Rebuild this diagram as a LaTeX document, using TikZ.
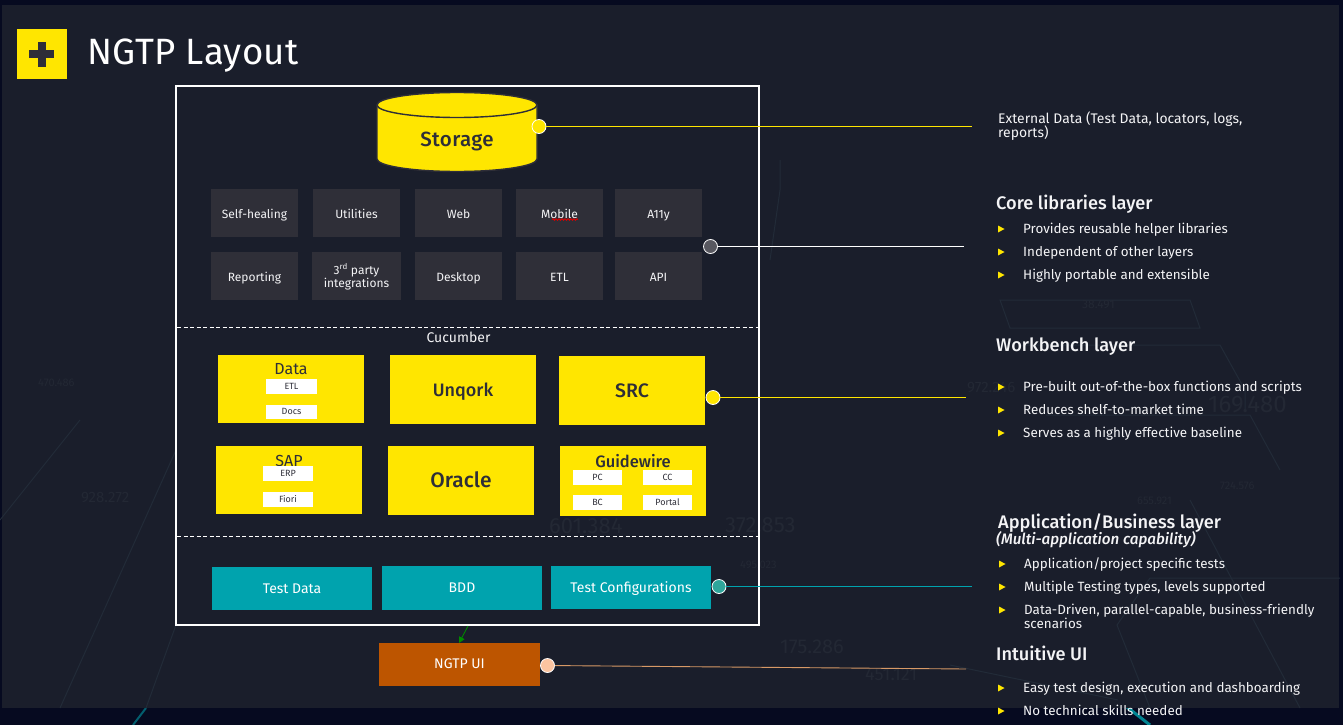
\documentclass[tikz,border=0pt]{standalone}
\usepackage{fontspec}
\setmainfont{Fira Sans}
\usetikzlibrary{arrows.meta,decorations.pathmorphing}
\definecolor{panel}{HTML}{1A1E2B}
\definecolor{outerbg}{HTML}{060A20}
\definecolor{eyyellow}{HTML}{FFE600}
\definecolor{eydark}{HTML}{2E2E38}
\definecolor{eyteal}{HTML}{00A3AE}
\definecolor{eyorange}{HTML}{BD5500}
\definecolor{greybox}{HTML}{2F2F38}
\definecolor{faint}{HTML}{222B38}
\definecolor{fainttext}{HTML}{232834}
\definecolor{textw}{HTML}{F4F4F6}
\definecolor{tealdot}{HTML}{2FA59B}
\definecolor{peachdot}{HTML}{FCC4A0}
\newfontface\medium{Fira Sans Medium}
\newfontface\mediumit{Fira Sans Medium Italic}
\tikzset{
  x=1pt,y=-1pt,
  box/.style 2 args={anchor=north west,inner sep=0pt,outer sep=0pt,minimum width=#1,minimum height=#2},
  core/.style={fill=greybox,text=textw,text height=11.5pt,text depth=1.5pt,font=\fontsize{12}{13.5}\selectfont},
  ylw/.style={fill=eyyellow,text=eydark,text height=15.5pt,text depth=2pt,font=\fontsize{19.5}{22}\selectfont\medium},
  ylwhead/.style={fill=none,text=eydark,inner sep=0pt,font=\fontsize{16}{18}\selectfont},
  sub/.style={fill=white,text=eydark,text height=7pt,text depth=2pt,font=\fontsize{9}{10}\selectfont},
  tealbox/.style={fill=eyteal,text=white,text height=10.5pt,text depth=1.5pt,font=\fontsize{14}{16}\selectfont},
  dot/.style={circle,inner sep=0pt,minimum size=14pt,line width=.8pt},
  lbl/.style={anchor=base west,inner sep=0pt,text=textw,font=\fontsize{13.4}{14}\selectfont},
  headlbl/.style={anchor=base west,inner sep=0pt,text=textw,font=\fontsize{18.2}{20}\selectfont\medium},
  bull/.style={fill=eyyellow,draw=none},
  bgline/.style={draw=faint,line width=1pt},
  bgnum/.style={text=fainttext,inner sep=0pt,anchor=west},
  dashline/.style={draw=white,line width=1pt,dash pattern=on 4pt off 2.5pt},
}
\newcommand{\bul}[2]{\fill[bull] (#1,#2-3.5) -- (#1+6.5,#2) -- (#1,#2+3.5) -- cycle;}
\begin{document}
\begin{tikzpicture}
\useasboundingbox (0,0) rectangle (1343,725);
\fill[outerbg] (0,0) rectangle (1343,725);
% bright leftovers of the backdrop outside the panel
\draw[draw=eyteal!55!outerbg,line width=2pt] (146,708) -- (133,725);
\draw[draw=eyteal!80!outerbg,line width=3pt] (1118,700) -- (1150,725);
\fill[panel] (2,5) rectangle (1339,708);
% faint backdrop
\draw[bgline] (176,625) -- (146,708);
\draw[bgline] (1340,578) -- (1150,578) -- (1117,625) -- (1150,708);
\draw[bgline] (1190,500) -- (1300,708);
\draw[bgline] (950,665) -- (1118,700);
\draw[bgline] (1000,300) -- (1190,300) -- (1200,328) -- (1010,328) -- cycle;
\draw[bgline] (1020,345) -- (1220,345) -- (1245,390) -- (1245,410);
\draw[bgline] (1046,415) -- (1250,415) -- (1280,470);
\draw[bgline] (0,520) -- (80,420);
\draw[bgline] (60,708) -- (176,450);
\draw[bgline] (780,160) -- (780,190) -- (770,260);
\node[bgnum,font=\fontsize{15}{16}\selectfont] (n1) at (81,498) {928.272};
\node[bgnum,font=\fontsize{11}{12}\selectfont] (n2) at (38,383) {470.486};
\node[bgnum,font=\fontsize{22}{24}\selectfont] (n3) at (549,526) {601.384};
\node[bgnum,font=\fontsize{22}{24}\selectfont] (n4) at (725,525) {372.853};
\node[bgnum,font=\fontsize{20}{22}\selectfont] (n5) at (780,647) {175.286};
\node[bgnum,font=\fontsize{18}{20}\selectfont] (n6) at (865,674) {451.121};
\node[bgnum,font=\fontsize{24}{26}\selectfont] (n7) at (1208,405) {169.480};
\node[bgnum,font=\fontsize{11}{12}\selectfont] (n8) at (1220,486) {724.576};
\node[bgnum,font=\fontsize{11}{12}\selectfont] (n9) at (1137,501) {655.921};
\node[bgnum,font=\fontsize{15}{17}\selectfont] (n10) at (967,388) {972.246};
\node[bgnum,font=\fontsize{12}{13}\selectfont] (n11) at (1082,305) {38.491};
\node[bgnum,font=\fontsize{11}{12}\selectfont] (n12) at (740,565) {495.023};
% title
\fill[eyyellow] (17,29) rectangle (67,79);
\fill[eydark] (29,50) rectangle (54,58);
\fill[eydark] (37.5,42) rectangle (45.5,67);
\node[anchor=base west,inner sep=0pt,text=white,font=\fontsize{36.6}{38}\selectfont\addfontfeature{LetterSpace=1}] (title) at (87,65) {NGTP Layout};
% outer frame
\node[box={583pt}{539pt},draw=white,line width=2pt] (frame) at (176,86) {};
\draw[dashline] (177,327) -- (758,327);
\draw[dashline] (177,536) -- (758,536);
% storage
\draw[fill=eyyellow,draw=eydark,line width=1.4pt] (377,105) -- (377,159) arc[start angle=180,end angle=360,x radius=80,y radius=-12.5] -- (537,105);
\draw[fill=eyyellow,draw=eydark,line width=1.4pt] (457,105) ellipse[x radius=80,y radius=12.5];
\node[text=eydark,inner sep=0pt,font=\fontsize{20.5}{22}\selectfont\medium\addfontfeature{LetterSpace=2}] (storage) at (457,141) {Storage};
\node[dot,fill=eyyellow,draw=white] (dstorage) at (539,126.5) {};
\coordinate (estorage) at (972,126.5);
\draw[eyyellow,line width=1pt] (dstorage) -- (estorage);
% core libraries
\node[box={87pt}{48pt},core] (selfheal) at (211,189) {Self-healing};
\node[box={87pt}{48pt},core] (util) at (313,189) {Utilities};
\node[box={87pt}{48pt},core] (web) at (415,189) {Web};
\node[box={87pt}{48pt},core] (mobile) at (516,189) {Mobile};
\node[box={87pt}{48pt},core] (ally) at (615,189) {A11y};
\node[box={87pt}{48pt},core] (report) at (211,252) {Reporting};
\node[box={89pt}{48pt},fill=greybox] (third) at (312,252) {};
\node[text=textw,inner sep=0pt,align=center,font=\fontsize{12}{13.5}\selectfont] (thirdt) at (356.5,277) {3\textsuperscript{rd} party\\integrations};
\node[box={87pt}{48pt},core] (desktop) at (415,252) {Desktop};
\node[box={87pt}{48pt},core] (etlcore) at (516,252) {ETL};
\node[box={87pt}{48pt},core] (api) at (615,252) {API};
\draw[red!85!black,line width=.9pt,decorate,decoration={snake,amplitude=.8pt,segment length=3pt}] (552,219.5) -- (578,219.5);
\node[dot,fill=eydark!80!white,draw=white] (dcore) at (710.5,246.5) {};
\coordinate (ecore) at (964,246.5);
\draw[white,line width=1pt] (dcore) -- (ecore);
% workbench
\node[text=textw,inner sep=0pt,font=\fontsize{14}{15}\selectfont] (cucumber) at (458.5,337) {Cucumber};
\node[box={146pt}{68pt},fill=eyyellow] (data) at (218,355) {};
\node[ylwhead] (datat) at (291,369.5) {Data};
\node[box={51pt}{15pt},sub] (etl) at (266,379) {ETL};
\node[box={51pt}{14pt},sub] (docs) at (266,405) {Docs};
\node[box={146pt}{69pt},ylw,font=\fontsize{18}{20}\selectfont\medium] (unqork) at (390,355) {Unqork};
\node[box={146pt}{69pt},ylw] (src) at (559,356) {SRC};
\node[box={146pt}{68pt},fill=eyyellow] (sap) at (216,446) {};
\node[ylwhead] (sapt) at (289,460.5) {SAP};
\node[box={50pt}{15pt},sub] (erp) at (263,466) {ERP};
\node[box={50pt}{15pt},sub] (fiori) at (263,492) {Fiori};
\node[box={146pt}{69pt},ylw,font=\fontsize{21}{23}\selectfont\medium] (oracle) at (388,446) {Oracle};
\node[box={146pt}{70pt},fill=eyyellow] (gw) at (560,446) {};
\node[ylwhead,font=\fontsize{16.5}{18}\selectfont\medium] (gwt) at (633,461.5) {Guidewire};
\node[box={49pt}{15pt},sub] (pc) at (573,470) {PC};
\node[box={49pt}{15pt},sub] (cc) at (643,470) {CC};
\node[box={49pt}{15pt},sub] (bc) at (573,495) {BC};
\node[box={49pt}{15pt},sub] (portal) at (643,495) {Portal};
\node[dot,fill=eyyellow,draw=white] (dwork) at (713,397.5) {};
\coordinate (ework) at (966,397.5);
\draw[eyyellow,line width=1pt] (dwork) -- (ework);
% application layer
\node[box={160pt}{43pt},tealbox] (tdata) at (212,567) {Test Data};
\node[box={160pt}{44pt},tealbox] (bdd) at (382,566) {BDD};
\node[box={160pt}{43pt},tealbox] (tconf) at (551,566) {Test Configurations};
\node[dot,fill=tealdot,draw=white] (dapp) at (719,586.5) {};
\coordinate (eapp) at (972,586.5);
\draw[eyteal,line width=1pt] (dapp) -- (eapp);
% ui
\node[box={161pt}{43pt},fill=eyorange,text=white,text height=10.5pt,text depth=2.5pt,font=\fontsize{14}{15}\selectfont] (ui) at (379,643) {NGTP UI};
\node[dot,fill=peachdot,draw=white] (dui) at (547.5,665.5) {};
\coordinate (eui) at (966,669);
\draw[eyorange!60!white,line width=.9pt] (dui) -- (eui);
\coordinate (frameout) at (468,626);
\draw[-{Triangle[length=6pt,width=6pt]},draw=green!55!black,fill=green!55!black,line width=.8pt] (frameout) -- (ui.north -| 459,643);
% right column
\node[lbl,font=\fontsize{13.9}{14}\selectfont] (ext1) at (998,123) {External Data (Test Data, locators, logs,};
\node[lbl,font=\fontsize{13.9}{14}\selectfont] (ext2) at (998,137) {reports)};
\node[headlbl] (h1) at (996,209) {Core libraries layer};
\bul{998}{229}\node[lbl] (t11) at (1023,233) {Provides reusable helper libraries};
\bul{998}{252}\node[lbl] (t12) at (1023,256) {Independent of other layers};
\bul{998}{275}\node[lbl] (t13) at (1023,279) {Highly portable and extensible};
\node[headlbl] (h2) at (996,351) {Workbench layer};
\bul{998}{387}\node[lbl] (t21) at (1023,391) {Pre-built out-of-the-box functions and scripts};
\bul{998}{410}\node[lbl] (t22) at (1023,414) {Reduces shelf-to-market time};
\bul{998}{433}\node[lbl] (t23) at (1023,437) {Serves as a highly effective baseline};
\node[headlbl] (h3) at (998,528) {Application/Business layer};
\node[headlbl,font=\fontsize{15.2}{16}\selectfont\mediumit] (h3b) at (996,544) {(Multi-application capability)};
\bul{999}{564}\node[lbl] (t31) at (1024,568) {Application/project specific tests};
\bul{999}{587}\node[lbl] (t32) at (1024,591) {Multiple Testing types, levels supported};
\bul{999}{610}\node[lbl] (t33) at (1024,614) {Data-Driven, parallel-capable, business-friendly};
\node[lbl] (t34) at (1024,628) {scenarios};
\node[headlbl] (h4) at (996,660) {Intuitive UI};
\bul{998}{688}\node[lbl] (t41) at (1023,692) {Easy test design, execution and dashboarding};
\bul{998}{711}\node[lbl] (t42) at (1023,715) {No technical skills needed};
\end{tikzpicture}
\end{document}
